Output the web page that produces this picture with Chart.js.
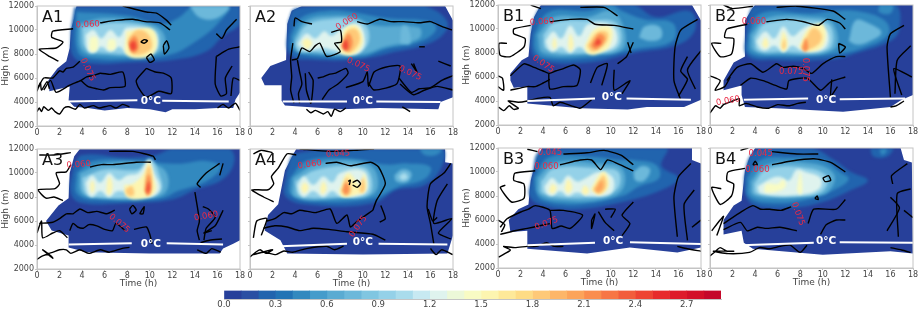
<!DOCTYPE html>
<html>
<head>
<meta charset="utf-8">
<script src="https://cdn.jsdelivr.net/npm/chart.js@4"></script>
<style>
html,body{margin:0;background:#fff;width:920px;height:313px;overflow:hidden}
#wrap{position:relative;width:920px;height:313px;filter:blur(.3px)}
#wrap div{position:absolute}
</style>
</head>
<body>
<div id="wrap"></div>
<script>
// x in hours, y in km (flat x,y pairs). heat rows start with the level.
const cmap = ['#27409a','#2a4fa3','#2164ae','#2173b5','#3289bf','#459ccb','#5aabd2','#6cb8da','#80c6e1','#94d1e8','#a9dcec','#c7e9f2','#dff3ee','#ecf8d8','#f8fbc4','#fdf5b0','#fee999','#fedc85','#fec978','#fdb668','#fca45a','#fa8d4e','#f77645','#f25d3c','#ee4433','#e72b2c','#de1b2b','#d31028','#c5082a'];
const barLevels = cmap.map((c,i)=>i/10);

const A1_shell = [3.5,12,18,12,18,4.8,17.6,4.2,17.4,3.5,16,3.5,14,3.4,12,3.4,11.4,3.15,10,3.4,8,3.5,6,3.3,4.5,3.5,3.3,3.6,2.8,4.1,2.9,5.3,1.1,4.9,1,5.8,1.8,6.8,2.6,7.4,2.9,8.5,3,10,3.3,11];
const A1_heat = [
  [.2,3.3,11.9,11,12,18,12,18,10.5,16.5,9.5,15,8.2,12,7.5,8,7.3,5,7.2,3.3,7.7,3,9.5],
  [.4,3.5,11.5,8,11.2,11,10.5,12.5,11,14,12,17,12,16,10.5,14,9,12,8,9,7.6,5,7.6,3.6,8.2],
  [.6,3.7,10.5,6,11,9,10.7,11,10,11.3,8.5,10,7.9,6,7.9,4,8.3],
  [.7,13.5,12,17,12,16,11,14.5,11],
  [.9,4,10.2,7,10.6,10.5,10,10.8,8.5,10,8,6,8.1,4.3,8.5],
  [1.2,4.3,9.6,5,10,5.7,9.3,6.5,10,7.3,9.4,8,10.2,10.4,9.7,10.4,8.3,8,8.1,7.3,8.6,6.5,8.2,5.7,8.6,5,8.1,4.5,8.3],
  [1.4,4.7,9.4,5.3,9.4,5.3,8.3,4.7,8.3],
  [1.4,6.3,9.2,6.9,9.2,6.9,8.4,6.3,8.4],
  [1.5,7.9,9.9,10.3,10,10.3,8,8,7.9],
  [1.8,8.1,9.3,8.9,10,9.9,9.6,10.1,8.4,8.5,8],
  [2.1,8.1,9,8.7,9.5,9,8.5,8.5,8.1],
  [2.4,8.2,8.8,8.6,9.1,8.8,8.5,8.4,8.3]];
const A1_lines = [
  [3.2,10.1,1.4,9.9,1.3,9.4,2.3,9,1.7,8.5,.2,8.4,1.1,7.8,1.9,7.4],
  [5.6,10.6,7,10.8,8.5,10.9,9.6,10.7,10.9,10.6,11.8,10],
  [7.6,12,9.7,11.5,10.6,11.4,11.5,10.8,11.9,10.4],
  [9.2,9,9.5,9.2,9.8,9.1,9.5,8.9,9.2,9],[9.7,7.7,10.1,8,10.4,7.5,10,7.3,9.7,7.7],[11.2,8.7,11.5,9.1,11.7,8.5,11.3,8,11.2,8.7],
  [.1,5.2,.6,6,1.4,6,2,6.6,2.3,6.5,2.6,6.8,3.2,6.9,3.8,7.4],
  [.6,5,1.2,5.8,1.7,4.8,2.9,5.4,3.9,5.8,4.4,6.1,5,6.2,5.6,6.4,6.5,6.3,7.6,6.5,7.8,5.3,6.5,5.2,5.9,5,5.3,5.1,4.5,5.3,3.9,5.8],
  [9.7,6.8,10.5,6.5,11.2,6.4,11.9,6,11.9,4.7,10.8,4.9,9.7,4.4,9,5.2,8.8,5.8,9.7,6.8],
  [15.9,9.7,16.4,9.3,16.8,10,17.4,10.6,17.7,10.9],[15.9,7.8,17,8.4,18,8.6],[15.9,7.8,15.8,5.5,16.3,4.5,16.8,4.7,16.7,6,17.3,7],[17.2,4.5,17.4,6,18,5.8],
  [0,3.2,.2,3.5,.4,3.2,.6,3.6,1,3.3,1.3,3.5,1.6,3.2,2,3,2.4,3.5,2.8,3.6,3.4,3.4,3.8,3.8,4.2,3.5,5,3.7,5.5,3.5,6.5,3.7,7,3.5,7.6,3.8,8.2,3.6],
  [0,4.9,.3,5.6,.4,5,.9,5.7,1.1,5.1],
  [16,3.5,16.5,3.8,17,3.5,17.6,3.9,18,3.3]];
const A1_labels = [['0.060',4.5,10.45,-3],['0.075',4.5,6.7,65]];
const A1_zero = [[2.6,4.05,8.9,4.15],[11.1,4.1,17,4.05]];
const A1_zeroAt = [10.1,4.1];

const A2_shell = [4.6,12,16.3,12,17.3,12,18,10.8,18,4.4,16.9,4,16.7,3.4,11.5,3.5,8,3.4,3.1,3.7,2.8,4.1,2.8,5.4,1.3,5.4,1,6,1.8,7,3.2,7.5,3.3,10.5,3.7,11.6];
const A2_heat = [
  [.2,3.4,10.8,4,11.8,8,12,13,12,15.5,12,17.5,10.7,17,9.5,15,8.6,13,8.2,10,7.6,6,7.5,3.5,8],
  [.4,3.6,9.5,4.5,11,7,11.6,9,11.5,12,11,16,10.7,16.5,10,15,9,12,8.4,10,7.8,6,7.8,3.8,8.3],
  [.6,3.9,9.4,5,10.8,7.5,11.2,9.5,11,11,10.4,15,10.2,15,9.3,12,8.6,10,8,6,8,4,8.5],
  [.9,4,9,5,10.4,7,10.9,9.5,10.8,10.5,10,10.2,8.5,8,8,5.5,8.2,4.3,8.2],
  [.7,13.3,8.9,13.5,10.3,14,10.2,14.2,8.9],
  [1.2,4.2,8.8,5,9.7,5.8,9.3,6.6,9.9,7.2,9.5,8,10,9.6,10.5,10.2,9,9.5,8,7.5,8.3,6.5,8.5,5,8.3],
  [1.5,4.6,9,5,9.3,5.5,8.9,5,8.4],
  [1.5,8,9,8.5,10.2,9.5,10.3,10,9,9.2,8,8,8.1],
  [1.8,8.2,9,8.7,10,9.5,10,9.7,9,8.8,8.1],
  [2.1,8.1,8.6,8.7,9.7,9.1,9,8.7,8.2],
  [2.4,8.2,8.7,8.5,9.2,8.7,8.6,8.4,8.3]];
const A2_lines = [
  [7.2,9.8,8,10,8.1,9,7.5,8.9,8,8.2,6.8,7.8,6.2,8.9,5.8,8.7,5.3,8.2,4.6,8.5,4.2,7.6,3.7,7.5],
  [9.5,10.7,10.4,10.5,11.5,10.9,12.5,10.7,13.6,10.7,15,10.6,16,10.7,17,10.3,17.9,10],
  [3.9,10.3,4,11,4.6,10.7,5.5,10.5],
  [3.8,8.9,3.6,7.5,3.7,6.1,3.6,5,3.9,3.9],[4.2,7.5,4.4,6.5,4.6,5.5,4.3,4.7,4.4,3.9],
  [4.9,6.4,5,5,5.4,3.9,5.6,5.8,5.2,6.5],
  [6,6,6.5,6.1,7,6.3,7.6,6.4,8.5,6.8,8.7,6.4,7.8,5.5,7,5,6.4,4.2],
  [8.5,5.2,10,5.7,10.4,6.5,10.5,5.3,11,6.5,12,6.9,13.3,7,13,5.5,11,5,10.5,5.6],
  [13.2,6,14.3,4.8,15,5.1,16,5.2,17,5.8,18,6.2],[13.3,5.5,14.5,4.6,15.5,5,16.6,5.3,18,5],
  [14.3,7.2,14.8,6.5,14.5,7.2],
  [5,3.4,5.4,3.1,5.8,3.3,6.5,3,6.9,3.2,7.2,2.8,7.5,3.4,8,3.2,8.5,3.5],[13.5,3.6,14.2,3.2],[15,8.6,15.5,8.6],[16.7,7.4,17.8,7]];
const A2_labels = [['0.060',8.6,10.7,-32],['0.075',9.6,7.1,25],['0.075',14.2,6.4,25]];
const A2_zero = [[2.9,4.05,8.6,4.05],[11.2,4.05,16.9,4]];
const A2_zeroAt = [10,4.1];

const A3_shell = [3.8,12,18,12,18,4.4,17.4,4.1,16.5,3.7,16.2,3.3,10,3.3,4.4,3.4,2.8,3.8,2.8,4.8,1.3,5.2,.8,6,1.9,7.3,2.8,7.9,2.9,10,3.3,11.4];
const A3_heat = [
  [.2,3.2,10.5,4,11.5,8,11.3,10.5,11.5,12,12,17,12,17.5,11,16.5,9.5,14,8.6,12,7.8,8,7.5,4,7.5,3,8.3],
  [.4,3.5,10,5,11,9,11,11.5,10.8,13,10.8,15,11,16.3,10.5,15,9.3,12.5,8.5,11,7.9,6,7.7,3.6,8.2],
  [.6,3.8,10,6,10.8,10,10.8,11.5,10,11.3,8.3,9,7.9,5,8,3.9,8.4],
  [.9,4,9.6,6,10.3,9,10.3,10,11.2,10.8,10,11,8.5,9.5,8,5,8,4.2,8.4],
  [1.2,4.3,9.2,4.9,9.8,5.6,9.2,6.4,10,7.2,9.4,8,9.8,9,10,9.9,11,10.4,10,10.9,8.7,10,8,7.2,8.5,6.4,8,5.6,8.5,4.9,8,4.5,8.3],
  [1.5,4.7,9,4.9,9.4,5.1,9,5,8.4,4.8,8.4],
  [1.5,6.2,9.2,6.4,9.7,6.7,9,6.5,8.2,6.2,8.3],
  [1.5,7.7,9,8.5,9.1,9.5,10,9.9,11,10.3,9.8,10.5,8.5,9.5,7.9,8,8],
  [1.8,7.8,8.6,8.4,8.9,8.6,8.2,8.1,8.1],
  [1.8,9.5,8.5,9.7,10.2,10,10.6,10.2,9.3,10,8.2],
  [2.1,9.6,8.5,9.8,9.8,10,9.8,10.1,8.6,9.8,8.1],
  [2.4,9.7,8.6,9.9,9.3,10,8.7,9.8,8.3]];
const A3_lines = [
  [3,10.7,2.6,10.1,1.7,10,2,9.1,1.6,8.7,.1,8.6,.8,7.9,1.5,8,2.3,7.7],
  [.2,11.5,1.5,11.5,3,11.7],
  [6.4,11.8,8.5,11.8,10.3,11.4,10.5,11.1],
  [4.7,10.5,5.7,10.7,6.7,10.7,8.8,10.9,10.1,10.9],
  [.2,5.8,1.4,5.9,2,6.2,2.6,6.6,3.2,6.6,3.8,7,4.5,6.7,5.3,6.8,6.2,6.6,6.9,6.9],
  [2.9,5.2,3.2,5.8,3.6,5.5,4.1,5.4,4.6,5.7,5.3,5.6,6,5.3,6.7,5.2,7,5.8,7.8,5.2],
  [0,5,.4,6,.5,4.6,1.4,5,2,5.2,2.7,4.6],
  [8.2,7,8.5,7.3,8.8,6.9,8.4,6.6,8.2,7],[9.1,6.6,9.5,7.2,9.4,6.6,9.1,6.6],
  [8.6,5.3,9.7,5.5,10,4.9,10.2,4.1],
  [16.2,10.8,15,10,14.2,9.1,14.5,8.8],[14,8.4,14.4,6,14.2,5.2,14.4,4.4],[14.7,7.2,15.2,7,15.8,6.3,15,5.4,14.8,4.4],
  [16.5,6.9,15.8,5.6,14.8,5,15.5,5.2],[16.4,4.5,15.3,4.4,14.5,4.2],[16.5,10.8,16.2,9.8],
  [0,2.8,.5,3.1,1.1,3.2,1.4,2.9,.5,3.6,1,3.3,2,3.6,2.6,3.6,3,3.3,3.8,3.6,4.6,3.3,5.6,3.6,6.4,3.4,7.5,3.7,8.2,3.8],
  [14.2,3.6,15,3.3,15.5,3.7,16.3,3.4]];
const A3_labels = [['0.060',3.7,10.7,-5],['0.075',7.3,5.8,40],['0.060',15,6.4,-10]];
const A3_zero = [[2.8,4.05,8.4,4.15],[11.5,4.15,16.5,4.05]];
const A3_zeroAt = [10.1,4.05];

const A4_shell = [4.1,12,17.3,12,17.3,10.9,18,10.8,18,4.8,17.5,3.3,10,3.2,3.3,3.3,2.7,4.4,1.3,5.2,1.6,6.5,2.5,7.4,3.1,10.2,3.8,11.5];
const A4_heat = [
  [.2,3.2,10,4,11.6,9,12,17,12,17,10.5,15.5,9,13,8.6,11,7.5,6,7.3,3.2,8],
  [.4,3.5,9.5,5,11,9,11.2,12,10.7,14,10.8,16,10.5,15.5,9.5,13,8.8,11,7.9,6,7.6,3.6,8.2],
  [.4,15,12,17,12,16.5,11.5,15.5,11.5],
  [.6,3.8,9.6,6,10.8,10,10.9,11.2,10,11,8.3,8,7.9,4,8],
  [.7,12.8,9.8,13.5,10.3,14.3,10,14,9.3,13,9.3],
  [.9,4,9.3,6,10.3,10,10.5,10.8,9.5,10.5,8.2,8,8,4.4,8.1],
  [1,13.2,9.7,13.7,10,14,9.6,13.5,9.4],
  [1.2,4.2,9,4.8,9.7,5.6,9,6.5,9.7,7.3,9.2,8,10,10,10.2,10.5,9,10,8.2,8,8.1,7.3,8.5,6.5,8,5.6,8.5,4.8,8,4.4,8.3],
  [1.5,4.5,8.7,4.8,9.2,5.2,8.8,4.8,8.3],
  [1.5,6.2,8.7,6.5,9.3,6.8,8.7,6.4,8.2],
  [1.5,7.9,8.5,8.7,10,9.8,9,10.1,10,10.3,8.6,9.5,8.2,8.2,8],
  [1.8,8.1,8.5,8.6,9.6,9,8.5,8.5,8.1],
  [1.8,9.7,8.6,10,9.6,10.2,8.7,9.9,8.3],
  [2.1,8.2,8.5,8.5,9.2,8.8,8.6,8.5,8.2]];
const A4_lines = [
  [4.1,11.5,3.3,11.6,2.5,10.4,1.9,9.7,2.1,9.1,1.6,8.6,.15,8.6,1.2,8,2.1,7.6],
  [.3,11.6,1,11.9,2,11.7],
  [4.4,12,7,11.8,9.5,11.9,11,12],
  [6.7,10.8,7.7,10.9,8.9,10.6,10.7,10.9,11.4,10.5,12,9.1,11.2,7.7,10.9,6.9],
  [9.1,9.2,9.5,9.4,9.8,9.1,9.5,8.8,9.1,9],[8.8,9,8.9,9.4,8.7,9.3],
  [1.5,6,2.2,6.2,3,6.7,3.7,6.6,4.4,6.9,5.8,6.7,7.1,7,7.7,5.8,8.6,6.5,8.9,5.5,9.4,5.9,10.9,6.9],
  [1.2,5.4,2.2,5.6,3.3,5.5,4.4,5.2,5.6,5.4,7,5.3,8.6,5.1,10.9,4.9,12,4.4],
  [.3,4.6,.6,6,1.5,6.2,1,4.8],
  [11.6,7.3,12,6.2,11.5,5.9],
  [17.8,10.8,17.2,10,16,9.1,15.7,7.2,16,5.8,16.3,4.1],[17.5,9.1,16.6,7.7,16.3,5.8,17.9,6.2,16.7,5,17.8,4.5],
  [15.8,7,16.2,6,16.6,6.3],
  [0,3,.5,3.4,.9,3.6,1.4,3.3,2,3.6,.3,3.2,1.2,3.4,2.3,3.2,3,3.5,3.8,3.4,5,3.7,6.8,3.9,7.5,3.6,8.3,3.9],
  [16,3.7,16.5,3.2,17,3.6,18,3.2]];
const A4_labels = [['0.045',7.8,11.6,-3],['0.060',5.3,10.7,-8],['0.075',9.6,5.55,-55]];
const A4_zero = [[2.7,3.9,8.6,4.1],[11.4,4.1,17.5,4.05]];
const A4_zeroAt = [10,4.2];

const B1_shell = [3.8,12,17.2,12,18,10.7,18,4.1,16.5,3.5,13.2,3.5,11.5,3.3,7.3,3.4,2.6,3.8,2.6,5.2,1.4,5.1,1.1,5.7,1.1,6.3,2.1,7.4,2.7,7.7,2.9,9.6,3.2,11];
const B1_heat = [
  [.2,3,10.5,4,11.9,9,12,12,12,14,11,17,11.5,17.5,10,16,8.7,12,8,8,7.2,4,7.3,3,8],
  [.4,3.2,9.5,4.5,11.4,8,11.5,10,12,11,11.5,13,10.8,15.5,10.5,15.5,9,12,8.3,8,7.6,4,7.6,3.3,8.2],
  [.6,3.5,9.5,5,11,8,11,10,11.5,11.2,10,11,8.3,8,7.9,4,8],
  [.7,12.5,9.3,13,10.2,14.3,10.2,14.5,9.3,13.5,9],
  [.9,4,9.5,5,10.5,8,10.7,10.5,10.5,10.7,8.5,8,8,4.3,8.3],
  [1.2,4.2,9,4.9,9.8,5.6,9.2,6.4,10.3,7.2,9.4,8,10.4,10.2,10.2,10.4,8.6,8,8.1,7.2,8.5,6.4,8,5.6,8.5,4.9,8.1,4.5,8.3],
  [1.5,4.8,8.7,5,9.3,5.2,8.7,5,8.3],
  [1.5,6.2,8.7,6.4,9.6,6.7,8.7,6.4,8.1],
  [1.5,7.7,8.6,8.6,10,10,10.1,9.9,8.6,8.7,7.9,7.9,8],
  [1.8,7.9,8.6,8.8,9.7,9.7,9.7,9.6,8.9,8.4,8.1],
  [2.1,8.2,8.6,9,9.6,9.5,9.2,8.7,8.3],
  [2.4,8.5,8.6,8.9,9.2,9.1,8.8]];
const B1_lines = [
  [2.9,10.3,1.4,10,1.4,9.6,2.4,9.2,2.3,8.5,1.1,7.7,.2,7.8,.1,8.8,.8,8.8],
  [2.9,12,3.8,11.7],
  [7.3,11.8,9.4,11.8,10.6,11.1],
  [4.6,10.6,6.4,10.8,7.9,10.8,8.6,10.4,10.3,10.3,12,10],
  [1.1,6.1,2.3,7.1,3.2,6.8,4,6.5,4.5,6.3,5.1,6.5,5.8,6.7,6.7,7,7.3,6.6,7,5.3,5.8,5.2,4.6,5,4.5,6.3],
  [1.1,4.9,2.6,5.2,3.3,5.2,4,5.5,4.6,5.8],
  [0,6.1,.4,5.9,.5,4.9,0,5.2],
  [8.2,5.5,8.8,6.8,9.7,7.1,9.2,5.3],[10.3,6.6,10.3,4.9,11.7,5.7,11,4.6],
  [12,8.9,11.4,7.7,10.6,7.1],[11.5,8.9,11.8,8],
  [17.7,10.8,16.2,9.9,15.7,8.5,15.6,5.7,16.2,4.1],[16.8,7.7,16.2,6.5,16.8,5.8,16,4.4],[18,8.2,16.8,6.6,17.5,5],
  [.05,3.5,.5,3.2,1,3.6,1.4,3.3,1.8,3.4,.9,4,1.8,3.9,2.6,4,3.4,4.2,4.6,4.3,4.9,3.6,5.5,3.9,6.5,3.6,7.3,3.4,8.3,4.1]];
const B1_labels = [['0.060',3.9,10.6,-5],['0.075',4,7.1,35]];
const B1_zero = [[2.6,4,8.6,4.2],[11.4,4.2,17.1,4.1]];
const B1_zeroAt = [10.1,4.3];

const B2_shell = [3.8,11.8,4,12,18,12,18,4.5,17,4.1,16,3.5,11.8,3.1,5.9,3.4,3.1,3.5,2.8,4.5,2.8,5.3,1.2,4.9,1.2,5.7,2.1,7.2,3.1,7.7,3.1,10.7];
const B2_heat = [
  [.2,3.2,10,4,11.9,10,12,14,12,16.5,12,16.8,10,16,9,13,8,11,7.5,6,7.4,3.3,7.8],
  [.4,3.4,9.5,4.5,11.3,9,11.3,11,11.5,13,11.5,15.5,10.7,15.8,9.5,13.5,8.4,11,7.9,6,7.7,3.5,8],
  [.4,15,12,16.2,12,16,11.3,15,11.4],
  [.6,3.6,9.5,5,10.9,9,11,10.9,10.5,11,8.3,6,7.9,3.8,8.2],
  [.7,12.3,9,12.9,10.7,14,10.5,15.2,9.7,14,8.9,13,8.7],
  [.9,3.9,9.3,5,10.5,9,10.7,10.7,10.2,10.5,8.3,6,8.1,4.2,8.2],
  [1.2,4.1,9,4.9,9.8,5.7,9.2,6.5,10.2,7.3,9.4,8.2,10,9,10.3,10.4,9.8,10.2,8.4,8.2,8.2,7.3,8.6,6.5,8.1,5.7,8.6,4.9,8.2,4.4,8.4],
  [1.5,4.6,8.7,4.9,9.3,5.2,8.7,4.9,8.4],
  [1.5,6.2,8.7,6.5,9.8,6.9,8.7,6.5,8.1],
  [1.5,7.9,8.5,8.7,10,10,10.4,10.1,8.7,8.9,8.1],
  [1.8,6.4,8.6,6.6,9.2,6.7,8.5,6.5,8.3],
  [1.8,8.1,8.5,8.6,9.4,9.2,10.1,9.9,9.5,9.6,8.7,8.3,8.2],
  [2.1,8.2,8.4,8.5,9.2,8.7,8.4,8.4,8.1]];
const B2_lines = [
  [3.3,10.4,1.5,10,1.3,9.3,2.1,9.2,1.9,7.9,.9,7.7,.15,8.8,1,8.8],
  [1.2,12,2,11.7,3.8,11.9],
  [5.9,11.8,7.7,11.9,10.9,11.5,12,10.8],
  [5,10.6,6.8,10.8,8.3,10.6,9.6,10.3,10.4,10.8,11.5,10.5,12,10],
  [1.5,5.7,2.4,6.8,3.6,7.1,4.7,6.4,5.9,7.1,6.5,6.8,7.4,6.9,8.3,6.7,9,6.3,10,7.1,11.2,7.7,12,7.7],
  [2.7,5.3,3.6,5.9,4.7,5.7,5.8,5.3,6.8,5,7,5.7,8.6,5.9,9.8,4.9,10.7,5.6,12,6],
  [11.4,8.8,12,8.5,11.5,8,11.4,8.8],
  [10.8,5.8,10.7,4.4,11.3,5.2],
  [17.2,10.3,16,9.6,15.7,8.5,16,4.3],[17.8,8.6,16.6,7.4,16.4,4.6],[17.9,6,16.3,6.7,17,4.5],
  [0,6.1,.9,5.7,.45,4.9,1.3,5.2,1.8,6],
  [0,3,.3,3.4,.5,3.6,.9,3.4,1.2,3.7,2,4,2.6,4.2,2.6,3.6,3.2,3.8,4.2,3.5,5.2,3.4,6,3.7,7,3.6,7.8,3.8,8.5,3.9],
  [16,3.5,16.5,3.6,17.2,4]];
const B2_labels = [['0.060',3.9,10.6,0],['0.075',7.2,6.4,0],['0.075',8.4,6.6,90],['0.060',1.6,4,-10]];
const B2_zero = [[3,4.1,8.7,4.2],[11.5,4.15,17.3,4.2]];
const B2_zeroAt = [10.3,4.1];

const B3_shell = [3.9,12,17.2,12,17.2,11,18,10.7,18,3.7,15.9,3.3,11.7,3.7,7.9,3.2,2.6,3.6,2.6,5.1,1.1,5,.95,6,1.8,6.9,2.7,7.3,2.9,9.3,3.3,10.7];
const B3_heat = [
  [.2,3,9.5,3.8,11.8,9,12,12,12,13,12,15,12,14.5,10.5,16,9.5,14.5,8.5,11,7.5,7,6.9,4,7.2,2.8,8],
  [.4,3.2,9.5,4.5,11.2,8,11.3,11,11,12,11,14,10.6,14.3,9.5,12.5,8.8,11,8,7,7.3,4,7.6,3.4,8.2],
  [.6,3.5,9.5,5,10.8,9,10.7,11,10.3,11,8.5,9,7.7,6,7.6,3.7,8.1],
  [.7,12,10,12.8,10.5,13.5,10.2,13,9.3,12.2,9.3],
  [.9,3.8,9.2,5,10.3,9,10.3,10.7,10,10.5,8.5,8,7.9,4,8.2],
  [1.2,4.1,8.8,4.8,9.5,5.5,9,6.2,9.7,7,9.2,7.6,9.4,9,10,10.2,9.5,10,8.2,8,8,7,8.3,6.2,8,5.5,8.4,4.8,8,4.3,8.2],
  [1.5,4.5,8.4,4.8,9,5.2,8.7,4.9,8.2],
  [1.5,5.9,8.6,6.2,9.4,6.6,8.7,6.2,8.2],
  [1.5,7.4,8.4,7.7,8.9,8.1,8.4,7.7,8.1],
  [1.5,8.2,8.5,9,9.8,9.5,10,9.8,8.8,9,8.1],
  [1.8,8.4,8.5,9.1,9.5,9.4,9.7,9.6,8.8,9,8.2],
  [2,8.6,8.5,9.2,9.3,9.3,8.7,8.9,8.3]];
const B3_lines = [
  [3.3,10.1,1.5,9.9,1.4,9.3,2.3,9,2.3,7.8,1.2,7.5,.2,8.7,.65,8.9],
  [2.6,11.9,3.5,11.7],
  [5.8,11.5,7.9,11.6,9.4,11.8,10.9,11.4,12,10.6],
  [5.5,10.6,7.3,11,8.3,11,9.1,10.2,9.7,11,10.6,10.7,12,10.1],
  [.2,5.4,.8,6.1,2.1,6.7,2.7,6.9,3.3,7.2,4.6,6.8,4.8,5.3,5.6,5.5,6.4,5.3,7.5,6.4,5.8,6.8,4.6,6.8],
  [.2,4.8,1.5,5.1,2.6,5.3,3.6,5.5,4.6,5.7],
  [0,6,.6,5.6,.3,5],
  [8.3,6,8.6,6.5,8.3,5.3,8.3,6],
  [8.9,6.7,9.5,5.8,10.3,5.1],[9.5,6.9,10.4,6.9,10,6.2],
  [12,7.5,11,6.4,11.7,5.7,11,4.7],
  [17.1,10.7,16,9.6,15.6,7.9,15.9,4.6],[17.4,8.5,16.5,7.3,16.8,4.3],[18,6,17.2,5.4],
  [.05,2.9,.6,3.2,1.1,3.5,.5,3.8,1.5,3.7,2.6,3.8,3.4,3.8,4.3,4.1,5,3.8,5.8,3.8],
  [15.9,3.8,16.8,3.6,18,3.4]];
const B3_labels = [['0.045',4.6,11.6,0],['0.060',4.3,10.4,0],['0.075',4.3,5.7,-20]];
const B3_zero = [[2.6,3.9,8.6,4.1],[11.7,4.15,18,4]];
const B3_zeroAt = [10.2,4.2];

const B4_shell = [4,12,16.9,12,17.2,11,17.9,10.8,18,3.2,16,3.4,10,3.1,3.8,3.6,3,4.1,2.8,5.1,1.2,4.8,1.2,6,2.1,7.2,2.8,7.6,3.1,10.1,3.5,11.2];
const B4_heat = [
  [.2,3,9.5,3.6,11.4,5,12,9,12,11,11,12.5,10,14,9.3,12.5,8.5,10,7.5,7,7,4,7.2,3.2,8],
  [.2,14.2,12,14.5,11.3,15.7,11.3,16.2,12],
  [.4,3.3,9.5,4.5,11,7,11.2,10,11,11.5,10,12.3,9.4,11,8.5,9,7.8,6,7.4,3.5,7.9],
  [.4,15,11.9,15.3,11.4,15.7,11.9],
  [.6,3.6,9.2,5,10.6,9,10.7,11,9.8,10.5,8.4,9,8,6,7.8,3.8,8.1],
  [.9,3.9,9,5,10.2,8,10.4,10.3,9.7,10,8.4,8,8,4.1,8.2],
  [1.2,4.2,8.8,5.5,9.5,6.2,9.6,7,9.3,7.7,10.2,8.5,10,9.8,9.5,9.7,8.6,8,8.1,4.5,8.2],
  [1.4,4.8,8.6,5,9,6,9,6.5,9.4,6.7,8.8,6,8.4,4.9,8.3],
  [1.4,7.7,8.5,8,10,8.2,8.5,8,8.1]];
const B4_lines = [
  [3.1,10.3,1.6,10,1.5,9.3,2.1,9,1.9,8,.9,7.3,.15,8.7,1,8.6],
  [2.7,11.8,3.4,12],
  [5.5,11.7,7.7,11.5,9.6,11.5],
  [3.8,10.6,4,10.9,4.2,10.6,3.8,10.6],
  [5.5,10.6,7.1,10.9,9.2,11.1,10.7,10.8,12,10],
  [1.2,5.7,2.8,6.7,3.8,7.2,4.5,6.9,5.3,6.9,6.3,6.8,7.2,7.1],
  [1.2,5.2,2.7,5.8,3.3,5.1,4.2,5.4,5,5.3,6.2,5.4,7.7,5.1],
  [8.7,5.7,9.2,6.9,11.2,6.9,12,7.7],[9.8,4.8,10.3,5.6,11.2,6,12,6],
  [10,9.5,10.5,9.7,10.7,9.3,10.2,9.2,10,9.5],[9.3,7.8,9.5,8,9.6,7.7,9.3,7.8],
  [17.5,10.7,16.1,9.7,16.2,9],[16,7.9,16.8,7,15.7,5.1],[17.8,8.6,16.6,8.2,16.7,4.6],[18,6.2,17.2,6.8],
  [.15,5.1,.9,6,1.2,6.3,.6,4.7],
  [0,3,.5,3.4,.9,3.7,1.5,3.4,2.1,3.4,.3,3.4,1.6,3.2,3.5,3.3,4.4,3.7,5.3,3.6,6.2,3.8,7.1,3.9,8,3.3,8.6,3.9],
  [16,3.7,17,3.5,17.8,3.3]];
const B4_labels = [['0.045',4.5,11.5,0],['0.060',4.2,10.2,0],['0.075',7.8,6.5,70]];
const B4_zero = [[2.8,3.9,9.2,4.1],[11.5,4.15,18,4.1]];
const B4_zeroAt = [10.3,4.2];

const timeTicks = 2;
const heightTicks = 2000;

const panels = [
  {name:'A1',shell:A1_shell,heat:A1_heat,lines:A1_lines,labels:A1_labels,zero:A1_zero,zeroAt:A1_zeroAt,left:37,top:6,yAxis:true,xTitle:false},
  {name:'A2',shell:A2_shell,heat:A2_heat,lines:A2_lines,labels:A2_labels,zero:A2_zero,zeroAt:A2_zeroAt,left:250,top:6,yAxis:false,xTitle:false},
  {name:'A3',shell:A3_shell,heat:A3_heat,lines:A3_lines,labels:A3_labels,zero:A3_zero,zeroAt:A3_zeroAt,left:37,top:149,yAxis:true,xTitle:true},
  {name:'A4',shell:A4_shell,heat:A4_heat,lines:A4_lines,labels:A4_labels,zero:A4_zero,zeroAt:A4_zeroAt,left:250,top:149,yAxis:false,xTitle:true},
  {name:'B1',shell:B1_shell,heat:B1_heat,lines:B1_lines,labels:B1_labels,zero:B1_zero,zeroAt:B1_zeroAt,left:498,top:5,yAxis:true,xTitle:false},
  {name:'B2',shell:B2_shell,heat:B2_heat,lines:B2_lines,labels:B2_labels,zero:B2_zero,zeroAt:B2_zeroAt,left:710,top:5,yAxis:false,xTitle:false},
  {name:'B3',shell:B3_shell,heat:B3_heat,lines:B3_lines,labels:B3_labels,zero:B3_zero,zeroAt:B3_zeroAt,left:498,top:148,yAxis:true,xTitle:true},
  {name:'B4',shell:B4_shell,heat:B4_heat,lines:B4_lines,labels:B4_labels,zero:B4_zero,zeroAt:B4_zeroAt,left:710,top:148,yAxis:false,xTitle:true}
];

Chart.defaults.font.family = '"DejaVu Sans"';
Chart.defaults.animation = false;
const axisGrey = '#444';
const frameGrey = '#c4c4c4';

const pts = flat => {
  const out = [];
  for(let i=0;i<flat.length;i+=2) out.push({x:flat[i], y:flat[i+1]*1000});
  return out;
};
const closed = flat => pts([...flat, flat[0], flat[1]]);
const lineSet = (data, color, width, order, tension) => ({data, showLine:true, pointRadius:0, borderColor:color, borderWidth:width, tension, order});

// fills the silhouette and heat bands from the line elements chart.js laid out
const panelPlugin = {
  id:'panelPlugin',
  beforeDatasetsDraw(chart){
    const {ctx, chartArea:a} = chart;
    chart.data.datasets.forEach((ds,i)=>{
      if(!ds.fillColor) return;
      const line = chart.getDatasetMeta(i).dataset;
      line.updateControlPoints(a);
      ctx.save();
      ctx.beginPath(); ctx.rect(a.left,a.top,a.right-a.left,a.bottom-a.top); ctx.clip();
      ctx.filter = `blur(${ds.blur}px)`;
      ctx.fillStyle = ds.fillColor;
      ctx.beginPath(); line.path(ctx); ctx.closePath(); ctx.fill();
      ctx.restore();
    });
  },
  afterDatasetsDraw(chart, args, opts){
    const {ctx, chartArea:a, scales:{x,y}} = chart;
    const p = opts.panel;
    ctx.save();
    ctx.textAlign = 'center'; ctx.textBaseline = 'middle';
    p.labels.forEach(([t,hx,hy,rot])=>{
      ctx.save();
      ctx.translate(x.getPixelForValue(hx), y.getPixelForValue(hy*1000));
      ctx.rotate(rot*Math.PI/180);
      ctx.fillStyle = '#ea2a45';
      ctx.font = '8.5px "DejaVu Sans"';
      ctx.fillText(t,0,0);
      ctx.restore();
    });
    ctx.fillStyle = '#fff';
    ctx.font = 'bold 10.5px "DejaVu Sans"';
    ctx.fillText('0°C', x.getPixelForValue(p.zeroAt[0]), y.getPixelForValue(p.zeroAt[1]*1000));
    ctx.fillStyle = '#111';
    ctx.font = '16px "DejaVu Sans"';
    ctx.textAlign = 'left';
    ctx.fillText(p.name, a.left+5, a.top+12);
    ctx.strokeStyle = frameGrey; ctx.lineWidth = 1;
    ctx.strokeRect(a.left,a.top,a.right-a.left,a.bottom-a.top);
    ctx.restore();
  }
};

const wrap = document.getElementById('wrap');
function addCanvas(left, top, w, h){
  const d = document.createElement('div');
  d.style.cssText = `left:${left}px;top:${top}px;width:${w}px;height:${h}px`;
  const c = document.createElement('canvas');
  d.appendChild(c); wrap.appendChild(d);
  return c;
}

panels.forEach(p=>{
  const bottom = p.xTitle ? 20 : 12;
  const c = addCanvas(p.left-37, p.top-6, 248, 6+120+bottom);
  const datasets = [];
  datasets.push({data:closed(p.shell), showLine:true, pointRadius:0, borderColor:'transparent', borderWidth:0, tension:0, fillColor:cmap[0], blur:.5, order:9});
  p.heat.forEach(row=>{
    const lev = row[0];
    datasets.push({data:closed(row.slice(1)), showLine:true, pointRadius:0, borderColor:'transparent', borderWidth:0, tension:.4, fillColor:cmap[Math.round(lev*10)], blur:1.6, order:8});
  });
  p.lines.forEach(l=>datasets.push(lineSet(pts(l),'#000',1.4,2,.2)));
  p.zero.forEach(l=>datasets.push(lineSet(pts(l),'#fff',2,1,0)));
  new Chart(c,{
    type:'scatter',
    data:{datasets},
    plugins:[panelPlugin],
    options:{
      responsive:true, maintainAspectRatio:false,
      layout:{padding:{left:0,top:6,right:8,bottom:0}},
      plugins:{legend:{display:false},tooltip:{enabled:false},panelPlugin:{panel:p}},
      scales:{
        x:{type:'linear',min:0,max:18,z:1,
          ticks:{stepSize:timeTicks,color:axisGrey,font:{size:8},padding:0,maxRotation:0,autoSkip:false,callback:v=>String(v)},
          grid:{drawOnChartArea:false,tickLength:2,color:frameGrey},border:{color:frameGrey},
          title:{display:p.xTitle,text:'Time (h)',color:axisGrey,font:{size:9},padding:{top:0,bottom:0}},
          afterFit(s){ s.height = bottom; }},
        y:{type:'linear',min:2000,max:12000,z:1,
          ticks:{display:p.yAxis,stepSize:heightTicks,color:axisGrey,font:{size:8},padding:1,callback:v=>String(v)},
          grid:{drawOnChartArea:false,tickLength:2,color:frameGrey},border:{color:frameGrey},
          title:{display:p.yAxis,text:'High (m)',color:axisGrey,font:{size:9},padding:{top:0,bottom:0}},
          afterFit(s){ s.width = 37; }}
      }
    }
  });
});

// colour bar
const barCanvas = addCanvas(204, 288, 537, 24);
new Chart(barCanvas,{
  type:'bar',
  data:{labels:[''],datasets:cmap.map((col,i)=>({label:barLevels[i].toFixed(1),data:[.1],backgroundColor:col,barPercentage:1,categoryPercentage:1}))},
  options:{
    indexAxis:'y',responsive:true,maintainAspectRatio:false,
    layout:{padding:{left:20,top:2.5,right:20,bottom:0}},
    plugins:{legend:{display:false},tooltip:{enabled:false}},
    scales:{
      x:{type:'linear',stacked:true,min:0,max:2.9,
        afterBuildTicks(s){ s.ticks = s.ticks.filter(t=>t.value<2.8); },
        ticks:{stepSize:.3,color:axisGrey,font:{size:8.5},padding:0,callback:v=>v.toFixed(1)},
        grid:{drawOnChartArea:false,tickLength:1,color:frameGrey},border:{color:frameGrey},
        afterFit(s){ s.height = 13; }},
      y:{stacked:true,display:false}
    }
  }
});
</script>
</body>
</html>
